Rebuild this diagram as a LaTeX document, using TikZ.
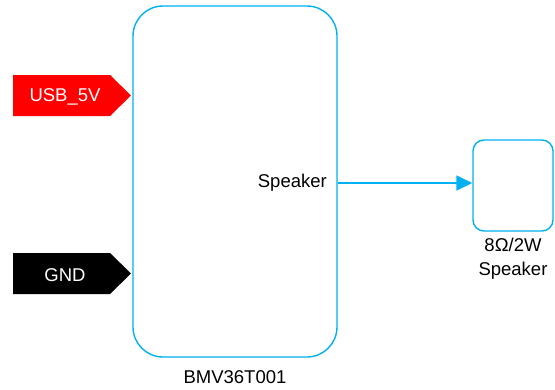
\documentclass[tikz,border=0pt]{standalone}
\usepackage{fontspec}
\setmainfont{Liberation Sans}
\usetikzlibrary{arrows.meta}
\definecolor{cy}{RGB}{0,176,240}
\begin{document}
\begin{tikzpicture}[x=1pt,y=-1pt,
  box/.style={draw=cy,line width=1.4pt,fill=white},
  lbl/.style={font=\fontsize{18.5}{23.5}\selectfont,inner sep=0pt},
  wire/.style={draw=cy,line width=1.4pt,-{Triangle[length=16pt,width=15pt]}}]
\useasboundingbox (0,0) rectangle (555,389);
% main block
\node[box,rounded corners=30pt,minimum width=204pt,minimum height=351pt,inner sep=0pt] (mcu) at (235,181.5) {};
\node[lbl] (mcuname) at (235,377) {BMV36T001};
\node[lbl,anchor=east] (pin) at (327,183) {Speaker};
% speaker
\node[box,rounded corners=11pt,minimum width=80pt,minimum height=91pt,inner sep=0pt] (spk) at (513,185.5) {};
\node[lbl,align=center] (spkname) at (513,258.5) {8Ω/2W\\Speaker};
\draw[wire] (mcu.east |- pin) -- (spk.west |- pin);
% tags
\fill[red] (13,75) -- (110,75) -- (131,95.5) -- (110,116) -- (13,116) -- cycle;
\node[lbl,text=white] (usb) at (65,97) {USB\_5V};
\fill[black] (13,253) -- (110,253) -- (131,273.5) -- (110,294) -- (13,294) -- cycle;
\node[lbl,text=white] (gnd) at (65,275) {GND};
\end{tikzpicture}
\end{document}
